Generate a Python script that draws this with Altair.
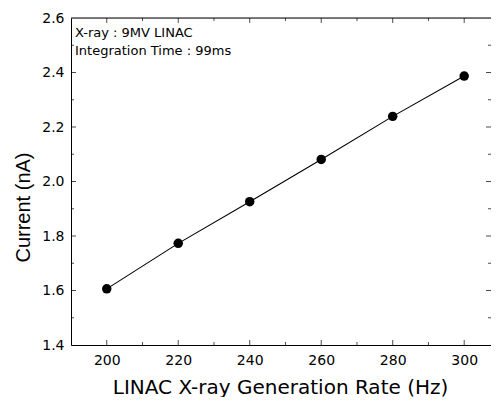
import altair as alt
import pandas as pd

rate_hz = [200, 220, 240, 260, 280, 300]
current_na = [1.606, 1.773, 1.926, 2.081, 2.239, 2.387]

x_major = [200, 220, 240, 260, 280, 300]
x_minor = [210, 230, 250, 270, 290]
y_major = [1.6, 1.8, 2.0, 2.2, 2.4]
y_minor = [1.5, 1.7, 1.9, 2.1, 2.3, 2.5]
y_labels = [1.4, 1.6, 1.8, 2.0, 2.2, 2.4, 2.6]

note_lines = ["X-ray : 9MV LINAC", "Integration Time : 99ms"]

FONT = "DejaVu Sans"
FONT_Y = "Liberation Sans"
X_DOM = [190, 307.5]
Y_DOM = [1.4, 2.6]

df = pd.DataFrame({"rate": rate_hz, "current": current_na})

xs = alt.Scale(domain=X_DOM, nice=False, zero=False)
ys = alt.Scale(domain=Y_DOM, nice=False, zero=False)

x_axis = alt.Axis(
    title="LINAC X-ray Generation Rate (Hz)",
    values=x_major, ticks=False, grid=False, domainColor="black",
    labelFont=FONT, labelFontSize=14, labelColor="black", labelPadding=8,
    titleFont=FONT, titleFontSize=20, titleFontWeight="normal", titleColor="black",
    titlePadding=10, titleX=209,
)
y_axis = alt.Axis(
    title="Current (nA)",
    values=y_labels, format=".1f",
    ticks=False, grid=False, domainColor="black",
    labelFont=FONT, labelFontSize=14, labelColor="black", labelPadding=7,
    titleFont=FONT_Y, titleFontSize=20, titleFontWeight="normal", titleColor="black",
    titleX=-42, titleY=189, titleAlign="center", titleBaseline="alphabetic",
)


def X(field):
    return alt.X(field, scale=xs, axis=x_axis)


def Y(field):
    return alt.Y(field, scale=ys, axis=y_axis)


line = alt.Chart(df).mark_line(color="black", strokeWidth=1.1).encode(
    x=X("rate:Q"), y=Y("current:Q"),
)
pts = alt.Chart(df).mark_point(filled=True, color="black", size=90, opacity=1).encode(
    x=X("rate:Q"), y=Y("current:Q"),
)

top_border = alt.Chart(pd.DataFrame({"v": [Y_DOM[1]]})).mark_rule(color="black", strokeWidth=1).encode(
    y=Y("v:Q")
)


def xticks(vals, length, at, sign):
    d = pd.DataFrame({"rate": vals, "current": [at] * len(vals)})
    return alt.Chart(d).mark_tick(orient="vertical", color="black", size=length,
                                   thickness=1, yOffset=sign * length / 2).encode(
        x=X("rate:Q"), y=Y("current:Q")
    )


def yticks(vals, length, at, sign):
    d = pd.DataFrame({"current": vals, "rate": [at] * len(vals)})
    return alt.Chart(d).mark_tick(orient="horizontal", color="black", size=length,
                                   thickness=1, xOffset=sign * length / 2).encode(
        y=Y("current:Q"), x=X("rate:Q")
    )


ticks = [
    xticks(x_major, 5, Y_DOM[0], -1), xticks(x_minor, 3, Y_DOM[0], -1),
    xticks(x_major, 5, Y_DOM[1], 1), xticks(x_minor, 3, Y_DOM[1], 1),
    yticks(y_major, 5, X_DOM[0], 1), yticks(y_minor, 3, X_DOM[0], 1),
    yticks(y_major, 5, X_DOM[1], -1), yticks(y_minor, 3, X_DOM[1], -1),
]


def note(txt, ypix):
    return alt.Chart(pd.DataFrame({"txt": [txt]})).mark_text(
        align="left", baseline="middle", font=FONT, fontSize=13, color="black"
    ).encode(text="txt:N", x=alt.value(4), y=alt.value(ypix))


notes = [note(note_lines[0], 15), note(note_lines[1], 33)]

chart = alt.layer(line, pts, top_border, *ticks, *notes).properties(
    width=420, height=327,
    autosize=alt.AutoSizeParams(type="none"),
    padding={"left": 63, "top": 10, "right": 0, "bottom": 52},
).configure_view(stroke=None).configure(background="white")

chart.save("out.html", embed_options={"renderer": "svg", "actions": False})
